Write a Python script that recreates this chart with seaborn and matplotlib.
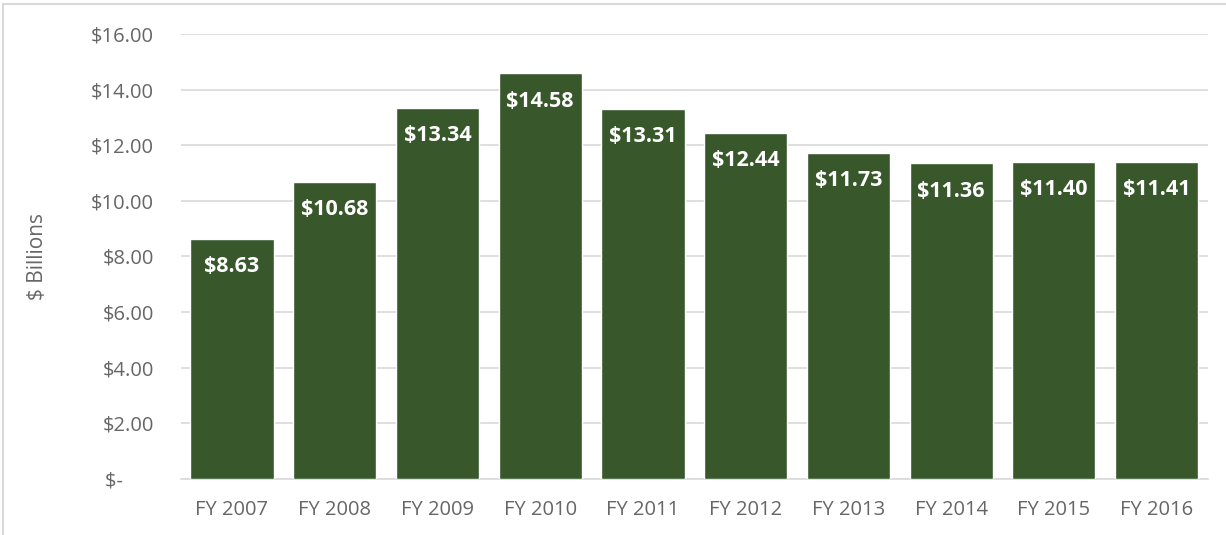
import matplotlib
matplotlib.use("Agg")
import matplotlib.pyplot as plt
import seaborn as sns
import pandas as pd
from matplotlib.patches import Rectangle
from matplotlib.transforms import offset_copy

years = ["FY 2007", "FY 2008", "FY 2009", "FY 2010", "FY 2011",
         "FY 2012", "FY 2013", "FY 2014", "FY 2015", "FY 2016"]
billions = [8.63, 10.68, 13.34, 14.58, 13.31, 12.44, 11.73, 11.36, 11.40, 11.41]
yticks = [0, 2, 4, 6, 8, 10, 12, 14, 16]
ytick_labels = ["$-      ", "$2.00", "$4.00", "$6.00", "$8.00",
                "$10.00", "$12.00", "$14.00", "$16.00"]

sns.set_theme(style="white")
plt.rcParams["font.family"] = ["Open Sans", "DejaVu Sans"]

bar_color = "#38572B"
text_gray = "#666666"
grid_gray = "#D9D9D9"

df = pd.DataFrame({"year": years, "value": billions})

fig = plt.figure(figsize=(12.26, 5.35), dpi=100)
ax = fig.add_axes([0.1473, 0.1047, 0.838, 0.8318])

sns.barplot(data=df, x="year", y="value", color=bar_color, saturation=1,
            width=0.81, ax=ax, zorder=3)

ax.set_ylim(0, 16)
ax.set_yticks(yticks)
ax.set_yticklabels(ytick_labels)
ax.set_xlim(-0.5, len(years) - 0.5)
ax.set_xlabel("")
ax.set_ylabel("$ Billions", color=text_gray, fontsize=15, labelpad=31)

ax.yaxis.grid(True, color=grid_gray, linewidth=1.2, zorder=0)
ax.xaxis.grid(False)
for side in ["top", "right", "left"]:
    ax.spines[side].set_visible(False)
ax.spines["bottom"].set_color(grid_gray)
ax.spines["bottom"].set_linewidth(1.2)
ax.tick_params(axis="both", length=0, colors=text_gray, labelsize=14.5)
ax.tick_params(axis="y", pad=19)
ax.tick_params(axis="x", pad=15)
for lbl in ax.get_yticklabels():
    lbl.set_horizontalalignment("right")

for i, v in enumerate(billions):
    trans = offset_copy(ax.transData, fig=fig, x=0, y=-28, units="dots")
    ax.text(i, v, f"${v:.2f}", transform=trans, ha="center", va="center",
            color="white", fontsize=15.5, fontweight="bold", zorder=4)

# chart frame
fig.patches.append(Rectangle((3 / 1226, -0.05), 1.2, (535 - 4) / 535 + 0.05,
                             transform=fig.transFigure, fill=False,
                             edgecolor=grid_gray, linewidth=1.5))

fig.savefig("out.png", dpi=100)
